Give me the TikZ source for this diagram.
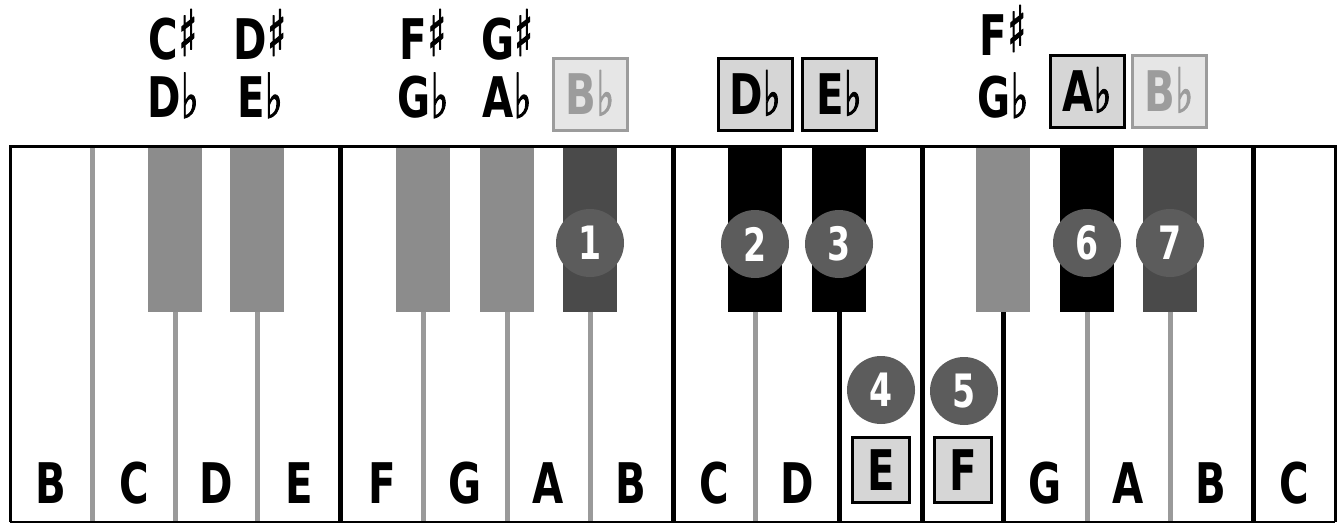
\documentclass[tikz,border=0pt]{standalone}
\usepackage{fontspec}
\newfontfamily\keyfont{DejaVu Sans}[FakeStretch=0.72]
\newfontfamily\symfont{DejaVu Sans}[FakeStretch=0.6,FakeBold=1.5]
\newcommand\shp{{\symfont\fontsize{64}{64}\selectfont\raisebox{3pt}[30pt][0pt]{♯}}}
\newcommand\flt{{\symfont\fontsize{62}{62}\selectfont\raisebox{-1pt}[30pt][0pt]{♭}}}
\definecolor{keygray}{HTML}{8C8C8C}
\definecolor{keydark}{HTML}{4A4A4A}
\definecolor{sepgray}{HTML}{9A9A9A}
\definecolor{dotgray}{HTML}{5C5C5C}
\definecolor{boxfill}{HTML}{D6D6D6}
\definecolor{faint}{HTML}{9C9C9C}
\definecolor{faintfill}{HTML}{E6E6E6}
\begin{document}
\begin{tikzpicture}[x=1pt,y=-1pt,
  lbl/.style={font=\keyfont\bfseries\fontsize{56}{60}\selectfont, inner sep=0pt, anchor=base},
  hibox/.style={lbl, anchor=center, draw=black, fill=boxfill, line width=3pt,
    text height=41pt, text depth=0pt, minimum width=74pt, minimum height=72pt},
  fadebox/.style={hibox, draw=faint, fill=faintfill, text=faint},
  lowbox/.style={hibox, minimum width=57pt, minimum height=65pt},
  num/.style={circle, fill=dotgray, text=white, minimum size=68pt, inner sep=0pt,
    font=\keyfont\bfseries\fontsize{46}{50}\selectfont},
  sepg/.style={draw=sepgray, line width=5pt},
  sepb/.style={draw=black, line width=5pt}]
\useasboundingbox (0,0) rectangle (1343,525);
% white area
\fill[white] (10,146) rectangle (1335,522);
% black (and grey) keys
\foreach \x/\c in {175/keygray,257/keygray,423/keygray,507/keygray,590/keydark,
                   755/black,839/black,1003/keygray,1087/black,1170/keydark}
  \fill[\c] (\x-27,146) rectangle (\x+27,312);
% separators below black keys
\foreach \x in {175,257,423,507,590,755,1087,1170}
  \draw[sepg] (\x,312) -- (\x,522);
\foreach \x in {839,1003}
  \draw[sepb] (\x,312) -- (\x,522);
% full-height separators
\draw[sepg] (92,146) -- (92,522);
\foreach \x in {340,673,922,1253}
  \draw[sepb] (\x,146) -- (\x,522);
% outline
\draw[black, line width=3pt] (10,522) -- (10,146) -- (1335,146) -- (1335,522);
\draw[black, line width=1.5pt] (10,522) -- (1335,522);
% top labels: sharps
\node[lbl] (sC1) at (173,59) {C\shp};
\node[lbl] (sD1) at (260,59) {D\shp};
\node[lbl] (sF1) at (423,59) {F\shp};
\node[lbl] (sG1) at (507,59) {G\shp};
\node[lbl] (sF2) at (1003,55) {F\shp};
% top labels: flats
\node[lbl] (fD1) at (173,117) {D\flt};
\node[lbl] (fE1) at (260,117) {E\flt};
\node[lbl] (fG1) at (423,117) {G\flt};
\node[lbl] (fA1) at (507,117) {A\flt};
\node[fadebox] (fB1) at (590,94) {B\flt};
\node[hibox] (fD2) at (755,94) {D\flt};
\node[hibox] (fE2) at (839,94) {E\flt};
\node[lbl] (fG2) at (1003,117) {G\flt};
\node[hibox] (fA2) at (1087,91) {A\flt};
\node[fadebox] (fB2) at (1169,91) {B\flt};
% bottom letters
\foreach \n/\x/\t in {b1/51/B,b2/134/C,b3/216/D,b4/299/E,b5/382/F,b6/465/G,b7/548/A,b8/631/B,
                      b9/714/C,b10/797/D,b13/1045/G,b14/1128/A,b15/1211/B,b16/1294/C}
  \node[lbl] (\n) at (\x,503) {\t};
\node[lowbox] (b11) at (881,470) {E};
\node[lowbox] (b12) at (963,470) {F};
% finger numbers
\node[num] (n1) at (590,243) {1};
\node[num] (n2) at (755,244) {2};
\node[num] (n3) at (839,244) {3};
\node[num] (n4) at (881,390) {4};
\node[num] (n5) at (964,391) {5};
\node[num] (n6) at (1087,243) {6};
\node[num] (n7) at (1170,243) {7};
\end{tikzpicture}
\end{document}
